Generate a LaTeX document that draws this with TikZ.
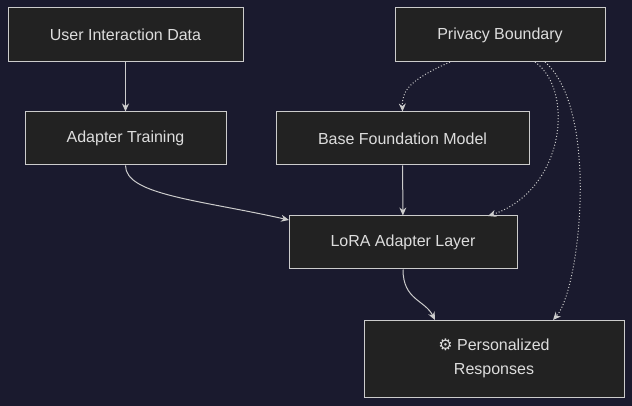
\documentclass[tikz,border=0pt]{standalone}
\usepackage{fontspec}
\setmainfont{Liberation Sans}
\newfontfamily\symfont{DejaVu Sans}
\usetikzlibrary{arrows.meta}
\definecolor{bgnavy}{HTML}{1A1A2E}
\definecolor{boxfill}{HTML}{222222}
\definecolor{linegray}{HTML}{CCCCCC}
\definecolor{textgray}{HTML}{DDDDDD}
\begin{document}
\begin{tikzpicture}[x=1pt,y=-1pt,
	box/.style={draw=linegray, fill=boxfill, line width=1pt, text=textgray,
		font=\fontsize{16}{24}\selectfont, align=center, inner sep=0pt},
	flow/.style={draw=linegray, line width=1pt, -{Stealth[length=8pt,width=7pt]}},
	guard/.style={flow, dotted}]
	\fill[bgnavy] (0,0) rectangle (632,406);
	\useasboundingbox (0,0) rectangle (632,406);
	\node[box, minimum width=235, minimum height=54] (data) at (125.5,35) {User Interaction Data};
	\node[box, minimum width=210, minimum height=54] (privacy) at (500,35) {Privacy Boundary};
	\node[box, minimum width=201, minimum height=53] (train) at (125.5,138.5) {Adapter Training};
	\node[box, minimum width=253, minimum height=53] (base) at (402.5,138.5) {Base Foundation Model};
	\node[box, minimum width=228, minimum height=53] (lora) at (403,242.5) {LoRA Adapter Layer};
	\node[box, minimum width=260, minimum height=77] (resp) at (494,358.5) {{\symfont ⚙} Personalized\\Responses};
	\coordinate (lin) at (289,220);
	\coordinate (rin1) at (435,320);
	\coordinate (rin2) at (553,320);
	\coordinate (lin2) at (488,216);
	\coordinate (p1) at (450,62);
	\coordinate (p2) at (535,62);
	\coordinate (p3) at (545,62);
	% solid flows
	\draw[flow] (data) -- (train);
	\draw[flow] (train.south) .. controls (125.5,195) and (200,200) .. (lin);
	\draw[flow] (base) -- (lora);
	\draw[flow] (lora.south) .. controls (403,300) and (425,300) .. (rin1);
	% privacy boundary
	\draw[guard] (p1) .. controls (410,80) and (402,90) .. (base.north);
	\draw[guard] (p2) .. controls (575,90) and (565,190) .. (lin2);
	\draw[guard] (p3) .. controls (600,110) and (580,290) .. (rin2);
\end{tikzpicture}
\end{document}
